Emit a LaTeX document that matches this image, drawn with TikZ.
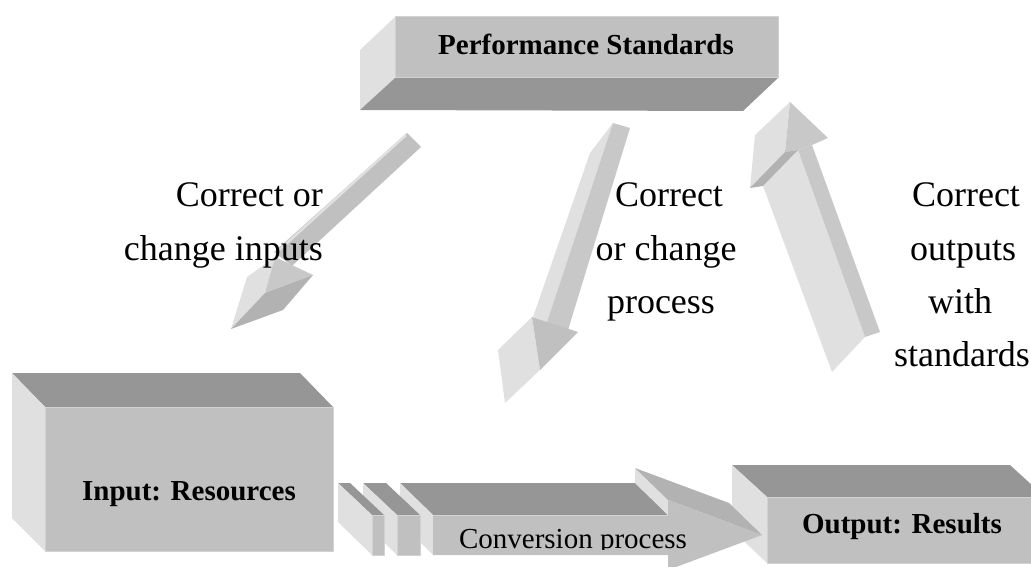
\documentclass[tikz,border=0pt]{standalone}
\usepackage{fontspec}
\setmainfont{Liberation Serif}
\definecolor{facefront}{HTML}{C0C0C0}
\definecolor{faceedge}{HTML}{D2D2D2}
\definecolor{facelight}{HTML}{E0E0E0}
\definecolor{facedark}{HTML}{969696}
\definecolor{facemid}{HTML}{B2B2B2}
\definecolor{facesoft}{HTML}{C8C8C8}

\begin{document}
\begin{tikzpicture}[x=1pt,y=-1pt,
  frontface/.style={fill=facefront, draw=faceedge, line width=1pt},
  lightface/.style={fill=facelight},
  darkface/.style={fill=facedark},
  midface/.style={fill=facemid},
  softface/.style={fill=facesoft},
  boxlabel/.style={font=\fontsize{29}{29}\selectfont\bfseries, inner sep=0pt},
  flowlabel/.style={font=\fontsize{29}{29}\selectfont, inner sep=0pt},
  notelabel/.style={font=\fontsize{36}{36}\selectfont, inner sep=0pt}]
\useasboundingbox (0,0) rectangle (1031,567);
\clip (0,0) rectangle (1031,567);

% ---------- Performance Standards (extruded down-left) ----------
\fill[lightface] (395,17) -- (395,78) -- (360,110) -- (360,50) -- cycle;
\fill[darkface] (395,78) -- (778,78) -- (743,111) -- (360,110) -- cycle;
\filldraw[frontface] (395,17) rectangle (778,78);
\node[boxlabel, anchor=base] (std) at (586,55) {Performance Standards};

% ---------- Output: Results ----------
\fill[darkface] (732,465) -- (1010,465) -- (1045,497) -- (767,497) -- cycle;
\fill[lightface] (732,465) -- (767,497) -- (767,563) -- (732,530) -- cycle;
\filldraw[frontface] (767,497) rectangle (1045,563);
\node[boxlabel, anchor=base] (out) at (902,533) {Output: Results};

% ---------- conversion process: block arrow, then the two slabs ----------
\fill[darkface] (400,483) -- (635,483) -- (668,515) -- (433,515) -- cycle;
\fill[lightface] (400,483) -- (433,515) -- (433,555) -- (400,522) -- cycle;
\fill[lightface] (635,468) -- (668,500) -- (668,515) -- (635,483) -- cycle;
\fill[midface] (635,468) -- (729,503) -- (762,535) -- (668,500) -- cycle;
\fill[facefront] (433,515) -- (668,515) -- (668,500) -- (762,535)
  -- (668,570) -- (668,555) -- (433,555) -- cycle;
\draw[faceedge, line width=1pt] (433,515) -- (668,515);
\begin{scope}
  \clip (433,500) rectangle (762,549);
  \node[flowlabel, anchor=base] (conv) at (573,548) {Conversion process};
\end{scope}

\fill[darkface] (363,483) -- (386,483) -- (420,515) -- (397,515) -- cycle;
\fill[lightface] (363,483) -- (397,515) -- (397,555) -- (363,522) -- cycle;
\filldraw[frontface] (397,515) rectangle (420,555);

\fill[darkface] (338,483) -- (350,483) -- (384,515) -- (372,515) -- cycle;
\fill[lightface] (338,483) -- (372,515) -- (372,555) -- (338,522) -- cycle;
\filldraw[frontface] (372,515) rectangle (384,555);

% ---------- Input: Resources ----------
\fill[darkface] (12,373) -- (300,373) -- (333,407) -- (45,407) -- cycle;
\fill[lightface] (12,373) -- (45,407) -- (45,551) -- (12,518) -- cycle;
\filldraw[frontface] (45,407) rectangle (333,551);
\node[boxlabel, anchor=base] (inp) at (189,500) {Input: Resources};

% ---------- feedback arrow: standards -> inputs ----------
\fill[facefront] (407,133) -- (421,147) -- (292,266) -- (274,252) -- cycle;
\draw[facelight, line width=2.5pt] (406,135) -- (276,253);
\fill[lightface] (247,277) -- (275,257) -- (265,293) -- (231,329) -- cycle;
\fill[softface] (275,257) -- (313,275) -- (265,293) -- cycle;
\fill[midface] (265,293) -- (313,275) -- (283,310) -- (231,329) -- cycle;

% ---------- feedback arrow: standards -> process ----------
\fill[lightface] (590,153) -- (613,123) -- (547,322) -- (533,317) -- cycle;
\fill[softface] (613,123) -- (630,128) -- (568,330) -- (547,322) -- cycle;
\fill[lightface] (498,350) -- (532,317) -- (540,370) -- (505,403) -- cycle;
\fill[facefront] (532,317) -- (578,332) -- (540,370) -- cycle;

% ---------- feedback arrow: outputs -> standards ----------
\fill[lightface] (763,186) -- (798,150) -- (865,337) -- (832,372) -- cycle;
\fill[softface] (798,150) -- (812,145) -- (880,332) -- (865,337) -- cycle;
\fill[lightface] (790,102) -- (755,135) -- (750,188) -- (785,152) -- cycle;
\fill[softface] (790,102) -- (828,138) -- (812,145) -- (798,150) -- (785,152) -- cycle;
\fill[midface] (750,188) -- (785,152) -- (798,150) -- (763,186) -- cycle;

% ---------- arrow captions ----------
\node[notelabel, anchor=base east] (ciA) at (323,207) {Correct or};
\node[notelabel, anchor=base east] (ciB) at (323,260) {change inputs};

\node[notelabel, anchor=base] (cpA) at (669,207) {Correct};
\node[notelabel, anchor=base] (cpB) at (666,260) {or change};
\node[notelabel, anchor=base] (cpC) at (661,313) {process};

\node[notelabel, anchor=base] (coA) at (966,207) {Correct};
\node[notelabel, anchor=base] (coB) at (963,260) {outputs};
\node[notelabel, anchor=base] (coC) at (960,313) {with};
\node[notelabel, anchor=base] (coD) at (962,366) {standards};
\end{tikzpicture}
\end{document}
